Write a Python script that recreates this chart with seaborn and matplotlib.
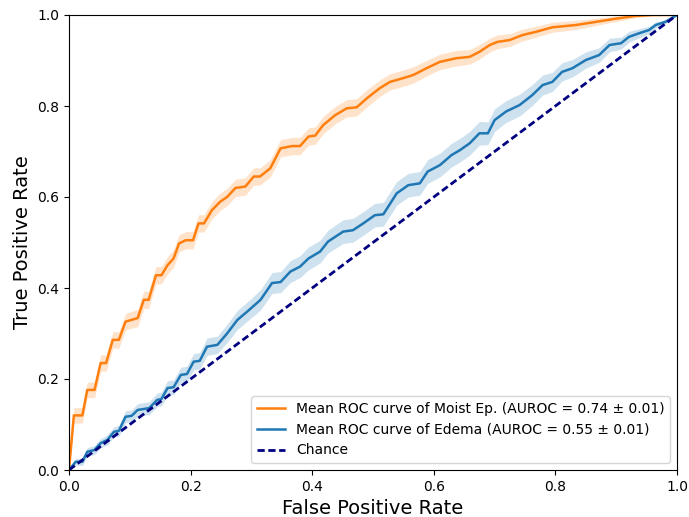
import numpy as np
import pandas as pd
import matplotlib
matplotlib.use("Agg")
import matplotlib.pyplot as plt
import seaborn as sns

# Mean ROC curve of the "Moist Ep." model, with per-point std of the TPR
moist_fpr = [0, 0.008, 0.022, 0.03, 0.042, 0.052, 0.061, 0.072, 0.082, 0.093,
             0.113, 0.123, 0.131, 0.143, 0.152, 0.162, 0.172, 0.181, 0.192, 0.204,
             0.213, 0.222, 0.235, 0.249, 0.26, 0.274, 0.29, 0.304, 0.314, 0.331,
             0.348, 0.367, 0.38, 0.394, 0.405, 0.418, 0.438, 0.457, 0.473, 0.49,
             0.511, 0.528, 0.549, 0.566, 0.588, 0.61, 0.637, 0.659, 0.675, 0.692,
             0.705, 0.725, 0.746, 0.768, 0.795, 0.834, 0.867, 0.9, 0.932, 0.96,
             1.0]
moist_tpr = [0, 0.12, 0.12, 0.176, 0.176, 0.235, 0.235, 0.286, 0.286, 0.326,
             0.334, 0.374, 0.374, 0.428, 0.428, 0.45, 0.465, 0.498, 0.505, 0.505,
             0.542, 0.542, 0.571, 0.59, 0.6, 0.62, 0.623, 0.645, 0.645, 0.663,
             0.707, 0.712, 0.712, 0.733, 0.735, 0.758, 0.78, 0.795, 0.797, 0.817,
             0.839, 0.853, 0.861, 0.868, 0.883, 0.897, 0.905, 0.908, 0.919, 0.934,
             0.941, 0.945, 0.956, 0.963, 0.973, 0.978, 0.985, 0.992, 0.998, 1.0,
             1.0]
moist_std = [0.0, 0.017, 0.017, 0.017, 0.017, 0.018, 0.018, 0.018, 0.018, 0.018,
             0.019, 0.019, 0.019, 0.019, 0.019, 0.019, 0.019, 0.019, 0.019, 0.019,
             0.019, 0.019, 0.019, 0.019, 0.019, 0.019, 0.019, 0.019, 0.019, 0.019,
             0.019, 0.019, 0.019, 0.019, 0.019, 0.019, 0.019, 0.019, 0.019, 0.019,
             0.018, 0.018, 0.018, 0.018, 0.017, 0.017, 0.017, 0.016, 0.016, 0.015,
             0.015, 0.014, 0.013, 0.012, 0.011, 0.010, 0.008, 0.006, 0.004, 0.002,
             0.0]

# Mean ROC curve of the "Edema" model, with per-point std of the TPR
edema_fpr = [0, 0.011, 0.022, 0.03, 0.042, 0.052, 0.063, 0.074, 0.082, 0.093,
             0.103, 0.113, 0.132, 0.145, 0.152, 0.162, 0.172, 0.184, 0.194, 0.205,
             0.215, 0.227, 0.244, 0.26, 0.277, 0.293, 0.315, 0.334, 0.348, 0.364,
             0.38, 0.394, 0.413, 0.426, 0.451, 0.467, 0.484, 0.503, 0.517, 0.539,
             0.558, 0.577, 0.59, 0.61, 0.629, 0.643, 0.659, 0.675, 0.689, 0.70,
             0.719, 0.741, 0.762, 0.779, 0.795, 0.811, 0.828, 0.85, 0.872, 0.889,
             0.908, 0.921, 0.938, 0.954, 0.965, 0.981, 1.0]
edema_tpr = [0, 0.018, 0.018, 0.04, 0.044, 0.059, 0.066, 0.084, 0.086, 0.117,
             0.119, 0.132, 0.136, 0.154, 0.156, 0.18, 0.182, 0.209, 0.211, 0.238,
             0.24, 0.271, 0.275, 0.30, 0.33, 0.348, 0.374, 0.411, 0.413, 0.436,
             0.447, 0.465, 0.48, 0.502, 0.524, 0.527, 0.542, 0.56, 0.562, 0.608,
             0.626, 0.63, 0.656, 0.67, 0.692, 0.703, 0.718, 0.74, 0.74, 0.769,
             0.788, 0.802, 0.824, 0.846, 0.853, 0.875, 0.883, 0.901, 0.912, 0.934,
             0.938, 0.952, 0.96, 0.967, 0.978, 0.985, 1.0]
edema_std = [0.0, 0.007, 0.008, 0.009, 0.010, 0.010, 0.011, 0.011, 0.012, 0.013,
             0.013, 0.014, 0.014, 0.015, 0.015, 0.016, 0.016, 0.017, 0.017, 0.018,
             0.018, 0.019, 0.019, 0.020, 0.021, 0.021, 0.022, 0.023, 0.023, 0.024,
             0.024, 0.025, 0.025, 0.025, 0.026, 0.026, 0.026, 0.026, 0.026, 0.026,
             0.026, 0.026, 0.026, 0.026, 0.026, 0.026, 0.026, 0.026, 0.025, 0.025,
             0.024, 0.024, 0.023, 0.022, 0.021, 0.020, 0.019, 0.018, 0.016, 0.015,
             0.013, 0.012, 0.010, 0.008, 0.007, 0.004, 0.0]

moist_label = "Mean ROC curve of Moist Ep. (AUROC = 0.74 ± 0.01)"
edema_label = "Mean ROC curve of Edema (AUROC = 0.55 ± 0.01)"
chance_x = [0, 1]
chance_y = [0, 1]

fig = plt.figure(figsize=(6.89, 5.17), dpi=100)
ax = fig.add_axes([69 / 689, 1 - 470 / 517, (677 - 69) / 689, (470 - 15) / 517])

curves = [
    (moist_fpr, moist_tpr, moist_std, "#ff7f0e", moist_label),
    (edema_fpr, edema_tpr, edema_std, "#1f77b4", edema_label),
]
for fpr, tpr, std, color, label in curves:
    df = pd.DataFrame({"fpr": fpr, "tpr": tpr, "std": std})
    sns.lineplot(data=df, x="fpr", y="tpr", ax=ax, color=color, lw=1.8,
                 sort=False, estimator=None, label=label)
    ax.fill_between(df["fpr"], np.clip(df["tpr"] - df["std"], 0, 1),
                    np.clip(df["tpr"] + df["std"], 0, 1), color=color,
                    alpha=0.22, lw=0)

sns.lineplot(x=chance_x, y=chance_y, ax=ax, color="navy", lw=2,
             dashes=False, label="Chance")
ax.lines[-1].set_dashes((2.6, 1.3))

ax.set_xlim(0, 1)
ax.set_ylim(0, 1)
ax.set_xlabel("False Positive Rate", fontsize=14)
ax.set_ylabel("True Positive Rate", fontsize=14)
ax.tick_params(labelsize=10)
ax.legend(loc="lower right", fontsize=10)

fig.savefig("out.png", dpi=100)
